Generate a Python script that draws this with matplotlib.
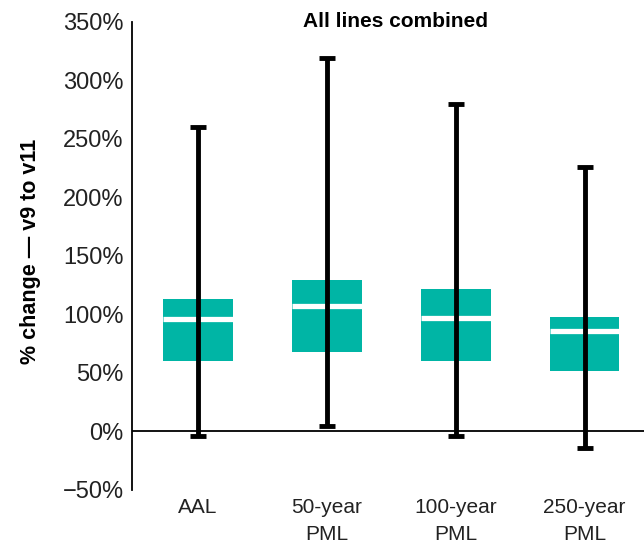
import numpy as np
import matplotlib.pyplot as plt
from matplotlib.ticker import FuncFormatter

# ── data (percent change v9 -> v11) ────────────────────────────────────
categories = ["AAL", "50-year\nPML", "100-year\nPML", "250-year\nPML"]
whisker_lo = [-4, 5, -4, -14]
box_lo = [60, 68, 60, 52]
median = [96, 107, 97, 86]
box_hi = [113, 129, 122, 98]
whisker_hi = [260, 319, 280, 226]

TEAL = "#00b5a5"

plt.rcParams["font.family"] = ["Liberation Sans", "DejaVu Sans"]


def main() -> None:
    fig = plt.figure(figsize=(6.44, 5.45), dpi=100)
    ax = fig.add_axes([0.205, 0.101, 0.795, 0.859])

    x = np.arange(len(categories))
    lo = np.array(box_lo)
    hi = np.array(box_hi)
    med = np.array(median)

    # boxes
    ax.bar(x, hi - lo, bottom=lo, width=0.54, color=TEAL, zorder=2)
    # white median bars
    ax.hlines(med, x - 0.27, x + 0.27, colors="white", linewidth=3.8, zorder=3)
    # whiskers on top
    ax.errorbar(
        x, med,
        yerr=[med - np.array(whisker_lo), np.array(whisker_hi) - med],
        fmt="none", ecolor="black", elinewidth=3.5, capsize=6, capthick=3.5,
        zorder=4,
    )

    ax.axhline(0, color="black", linewidth=1.3, zorder=1)

    ax.set_xlim(-0.51, 3.46)
    ax.set_ylim(-50, 350)
    ax.set_yticks(np.arange(-50, 351, 50))
    ax.yaxis.set_major_formatter(
        FuncFormatter(lambda v, _: f"\u2212{abs(v):.0f}%" if v < 0 else f"{v:.0f}%")
    )
    ax.set_xticks(x)
    ax.set_xticklabels(categories, fontsize=15, linespacing=1.5)

    for side in ("top", "right", "bottom"):
        ax.spines[side].set_visible(False)
    ax.spines["left"].set_linewidth(1.3)
    ax.tick_params(axis="y", length=0, labelsize=17, pad=6, colors="#222222")
    ax.tick_params(axis="x", length=0, pad=6, colors="#222222")

    ax.set_ylabel("% change \u2014 v9 to v11", fontsize=15.5, fontweight="bold")
    ax.yaxis.set_label_coords(-0.178, 0.51)
    ax.text(0.514, 1.0, "All lines combined", transform=ax.transAxes,
            ha="center", va="center", fontsize=15, fontweight="bold")

    fig.savefig("out.png", dpi=100)


if __name__ == "__main__":
    main()
